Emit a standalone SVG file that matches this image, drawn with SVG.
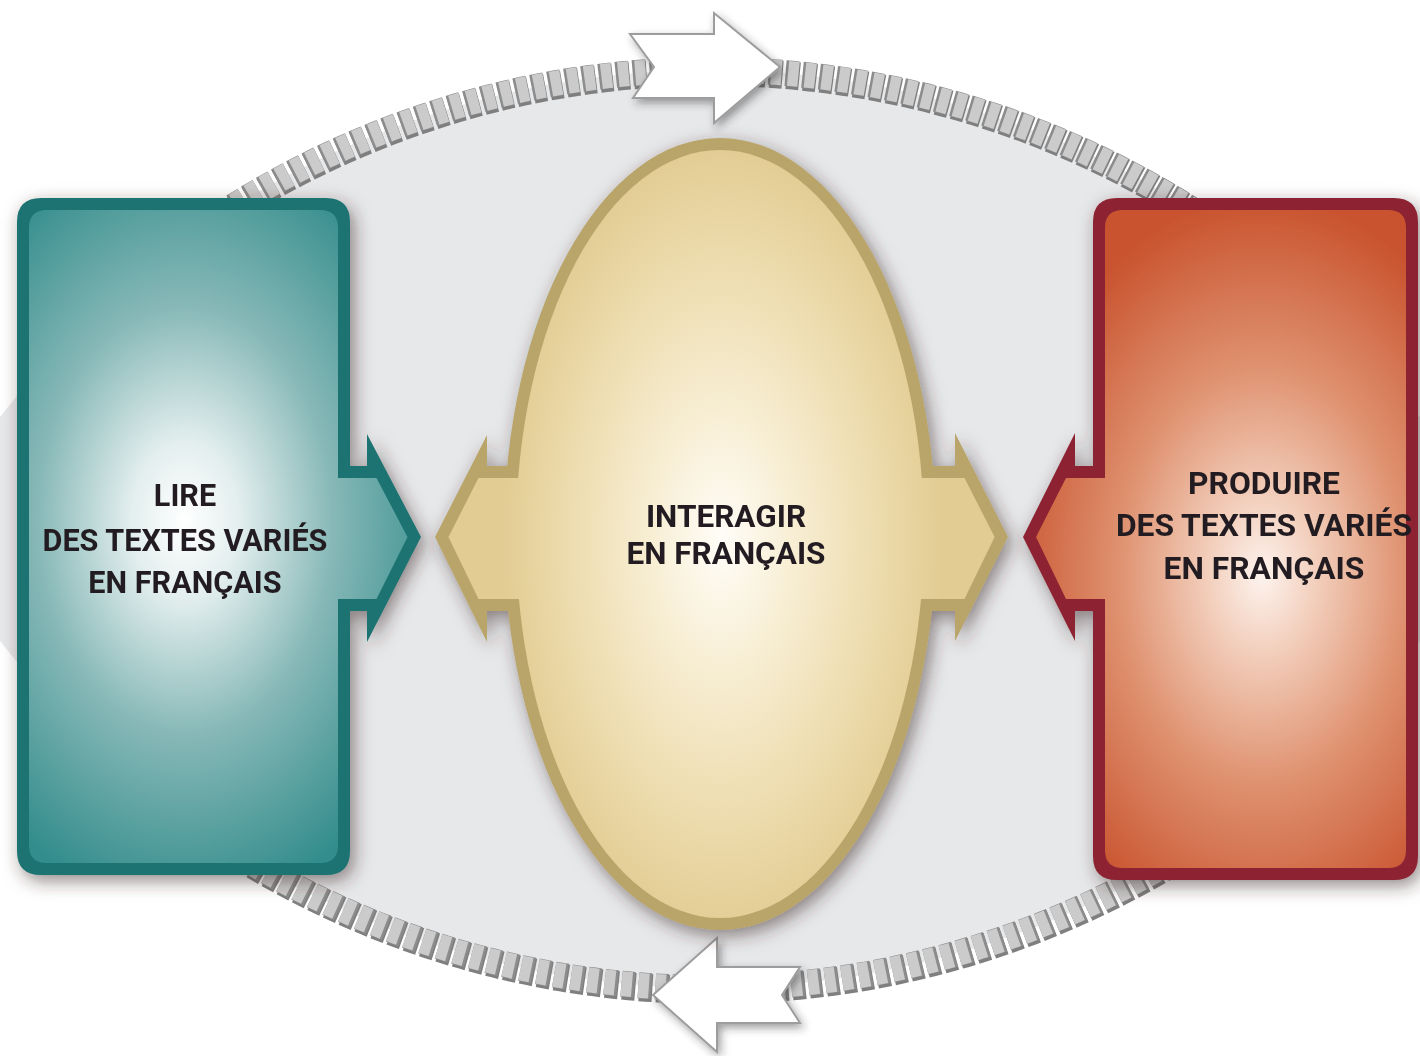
<svg xmlns="http://www.w3.org/2000/svg" width="1420" height="1056" viewBox="0 0 1420 1056">
<defs>
<filter id="sh" x="-20%" y="-20%" width="140%" height="140%"><feDropShadow dx="4" dy="6" stdDeviation="9" flood-color="#3a2a2a" flood-opacity="0.55"/></filter>
<filter id="sh2" x="-20%" y="-20%" width="140%" height="140%"><feDropShadow dx="3" dy="4" stdDeviation="4" flood-color="#2a2a2a" flood-opacity="0.45"/></filter>
<radialGradient id="gTeal" gradientUnits="userSpaceOnUse" cx="185" cy="520" r="270" gradientTransform="translate(185 520) scale(1 1.45) translate(-185 -520)">
<stop offset="0" stop-color="#ffffff"/><stop offset="0.2" stop-color="#e3eeee"/><stop offset="0.55" stop-color="#86b8b7"/><stop offset="1" stop-color="#338d8c"/></radialGradient>
<radialGradient id="gRed" gradientUnits="userSpaceOnUse" cx="1262" cy="575" r="260" gradientTransform="translate(1262 575) scale(1 1.45) translate(-1262 -575)">
<stop offset="0" stop-color="#fdf3ee"/><stop offset="0.2" stop-color="#f3d0be"/><stop offset="0.55" stop-color="#df9270"/><stop offset="1" stop-color="#c9532f"/></radialGradient>
<radialGradient id="gTan" gradientUnits="userSpaceOnUse" cx="722" cy="540" r="220" gradientTransform="translate(722 540) scale(1 1.8) translate(-722 -540)">
<stop offset="0" stop-color="#fffdf8"/><stop offset="0.3" stop-color="#f8efd6"/><stop offset="0.7" stop-color="#eddcae"/><stop offset="1" stop-color="#e2cc93"/></radialGradient>
<path id="lens" d="M -74.5 529 A 900 900 0 0 1 1494.5 529 A 900 900 0 0 1 -74.5 529 Z"/>
<path id="arcs" d="M150 265.4 A900 900 0 0 1 1270 265.4 M1270 792.6 A900 900 0 0 1 150 792.6"/>
</defs>
<style>
.lbl{font-family:Roboto,"Liberation Sans",Arial,sans-serif;font-weight:bold;fill:#231f20;text-anchor:middle}
.wa{fill:#ffffff;stroke:#9d9d9d;stroke-width:2;stroke-linejoin:miter}
</style>
<rect x="0" y="0" width="1420" height="1056" fill="#ffffff"/>
<use href="#lens" fill="#e7e8ea"/>
<g id="connectors">
<g id="chain">
<use href="#arcs" fill="none" stroke="#7f7f7f" stroke-width="28" stroke-dasharray="13 4" transform="translate(1 2)"/>
<use href="#arcs" fill="none" stroke="#8c8c8c" stroke-width="26" stroke-dasharray="13 4"/>
<use href="#arcs" fill="none" stroke="#cbcbcb" stroke-width="25" stroke-dasharray="10.5 6.5" stroke-dashoffset="-2.5"/>
</g>
<polygon id="arrow-top" class="wa" filter="url(#sh2)" points="630,34 714,34 714,13 780,67 714,123 714,98 633,98 654,67"/>
<polygon id="arrow-bottom" class="wa" filter="url(#sh2)" points="653,995 717,938 717,967 800,967 782,995 800,1023 717,1023 717,1052"/>
</g>
<g id="node-lire" filter="url(#sh)">
<path fill="#1b7372" d="M41 198 H326 Q350 198 350 222 V466 H367 V434 L421 537 L367 642 V611 H350 V851 Q350 875 326 875 H41 Q17 875 17 851 V222 Q17 198 41 198 Z"/>
<path fill="url(#gTeal)" d="M47 210 H320 Q338 210 338 228 V478 H376.5 L407.5 537 L376.5 599 H338 V845 Q338 863 320 863 H47 Q29 863 29 845 V228 Q29 210 47 210 Z"/>
<text class="lbl" x="185" y="506" font-size="30.6">LIRE</text>
<text class="lbl" x="185" y="551" font-size="30.6">DES TEXTES VARIÉS</text>
<text class="lbl" x="185" y="593" font-size="30.6">EN FRANÇAIS</text>
</g>
<g id="node-interagir" filter="url(#sh)">
<g fill="#b9a46b">
<ellipse cx="720" cy="534" rx="216" ry="396"/>
<polygon points="540,466 487,466 487,435 435,537 487,642 487,611 540,611"/>
<polygon points="900,466 955,466 955,433 1008,537 955,641 955,611 900,611"/>
</g>
<g fill="url(#gTan)">
<ellipse cx="720" cy="534" rx="204" ry="384"/>
<polygon points="560,478 478.5,478 448.5,537 478.5,599 560,599"/>
<polygon points="880,478 964.5,478 994.6,537 964.5,599 880,599"/>
</g>
<text class="lbl" x="726" y="527" font-size="31.5">INTERAGIR</text>
<text class="lbl" x="726" y="564" font-size="31.5">EN FRANÇAIS</text>
</g>
<g id="node-produire" filter="url(#sh)">
<path fill="#8c2433" d="M1117 198 H1394 Q1418 198 1418 222 V856 Q1418 880 1394 880 H1117 Q1093 880 1093 856 V611 H1075 V641 L1023 537 L1075 433 V466 H1093 V222 Q1093 198 1117 198 Z"/>
<path fill="url(#gRed)" d="M1123 210 H1388 Q1406 210 1406 228 V850 Q1406 868 1388 868 H1123 Q1105 868 1105 850 V599 H1066 L1036 537 L1066 478 H1105 V228 Q1105 210 1123 210 Z"/>
<text class="lbl" x="1264" y="494" font-size="31.8">PRODUIRE</text>
<text class="lbl" x="1264" y="536" font-size="31.8">DES TEXTES VARIÉS</text>
<text class="lbl" x="1264" y="579" font-size="31.8">EN FRANÇAIS</text>
</g>
</svg>
